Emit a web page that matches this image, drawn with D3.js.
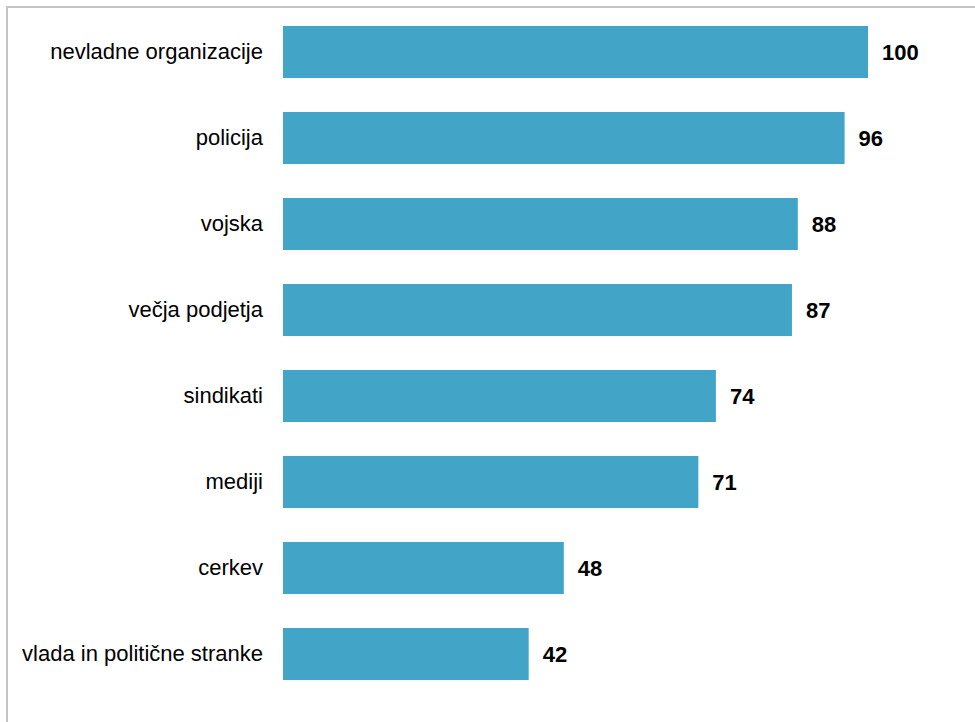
<!DOCTYPE html>
<html>
<head>
<meta charset="utf-8">
<script src="https://cdn.jsdelivr.net/npm/d3@7"></script>
<style>
  body { margin: 0; background: #fff; }
</style>
</head>
<body>
<div id="chart"></div>
<script>
// Data
const categories = [
    "nevladne organizacije",
    "policija",
    "vojska",
    "večja podjetja",
    "sindikati",
    "mediji",
    "cerkev",
    "vlada in politične stranke"
]
const values = [100, 96, 88, 87, 74, 71, 48, 42]

// Dimensions
const width = 975
const height = 722
const margin = { top: 9, left: 283, right: 107, bottom: 25 }

const svg = d3.select("#chart")
    .append("svg")
    .attr("width", width)
    .attr("height", height)

// frame (runs off the bottom/right edge like the original)
svg.append("rect")
    .attr("x", 7)
    .attr("y", 7)
    .attr("width", 1000)
    .attr("height", 800)
    .attr("fill", "none")
    .attr("stroke", "#c4c4c4")
    .attr("stroke-width", 2)

// Scales
const x = d3.scaleLinear()
    .domain([0, 100])
    .range([margin.left, width - margin.right])

const y = d3.scaleBand()
    .domain(categories)
    .range([margin.top, height - margin.bottom])
    .paddingInner(0.395)
    .paddingOuter(0.1975)

const data = categories.map((c, i) => ({ name: c, value: values[i] }))

// Bars
svg.append("g")
    .selectAll("rect")
    .data(data)
    .join("rect")
    .attr("x", x(0))
    .attr("y", d => y(d.name))
    .attr("width", d => x(d.value) - x(0))
    .attr("height", y.bandwidth())
    .attr("fill", "#42a5c8")

// Category labels
const yAxis = d3.axisLeft(y).tickSize(0).tickPadding(20)
const yAxisGroup = svg.append("g")
    .attr("transform", `translate(${x(0)},0)`)
    .call(yAxis)
yAxisGroup.select(".domain").remove()
yAxisGroup.selectAll("text")
    .style("font-family", "Liberation Sans, Arial, sans-serif")
    .style("font-size", "22px")
    .attr("fill", "#000")

// Value labels
svg.append("g")
    .selectAll("text")
    .data(data)
    .join("text")
    .attr("x", d => x(d.value) + 14)
    .attr("y", d => y(d.name) + y.bandwidth() / 2)
    .attr("dy", "0.35em")
    .style("font-family", "Liberation Sans, Arial, sans-serif")
    .style("font-size", "22px")
    .style("font-weight", "bold")
    .attr("fill", "#000")
    .text(d => d.value)
</script>
</body>
</html>
